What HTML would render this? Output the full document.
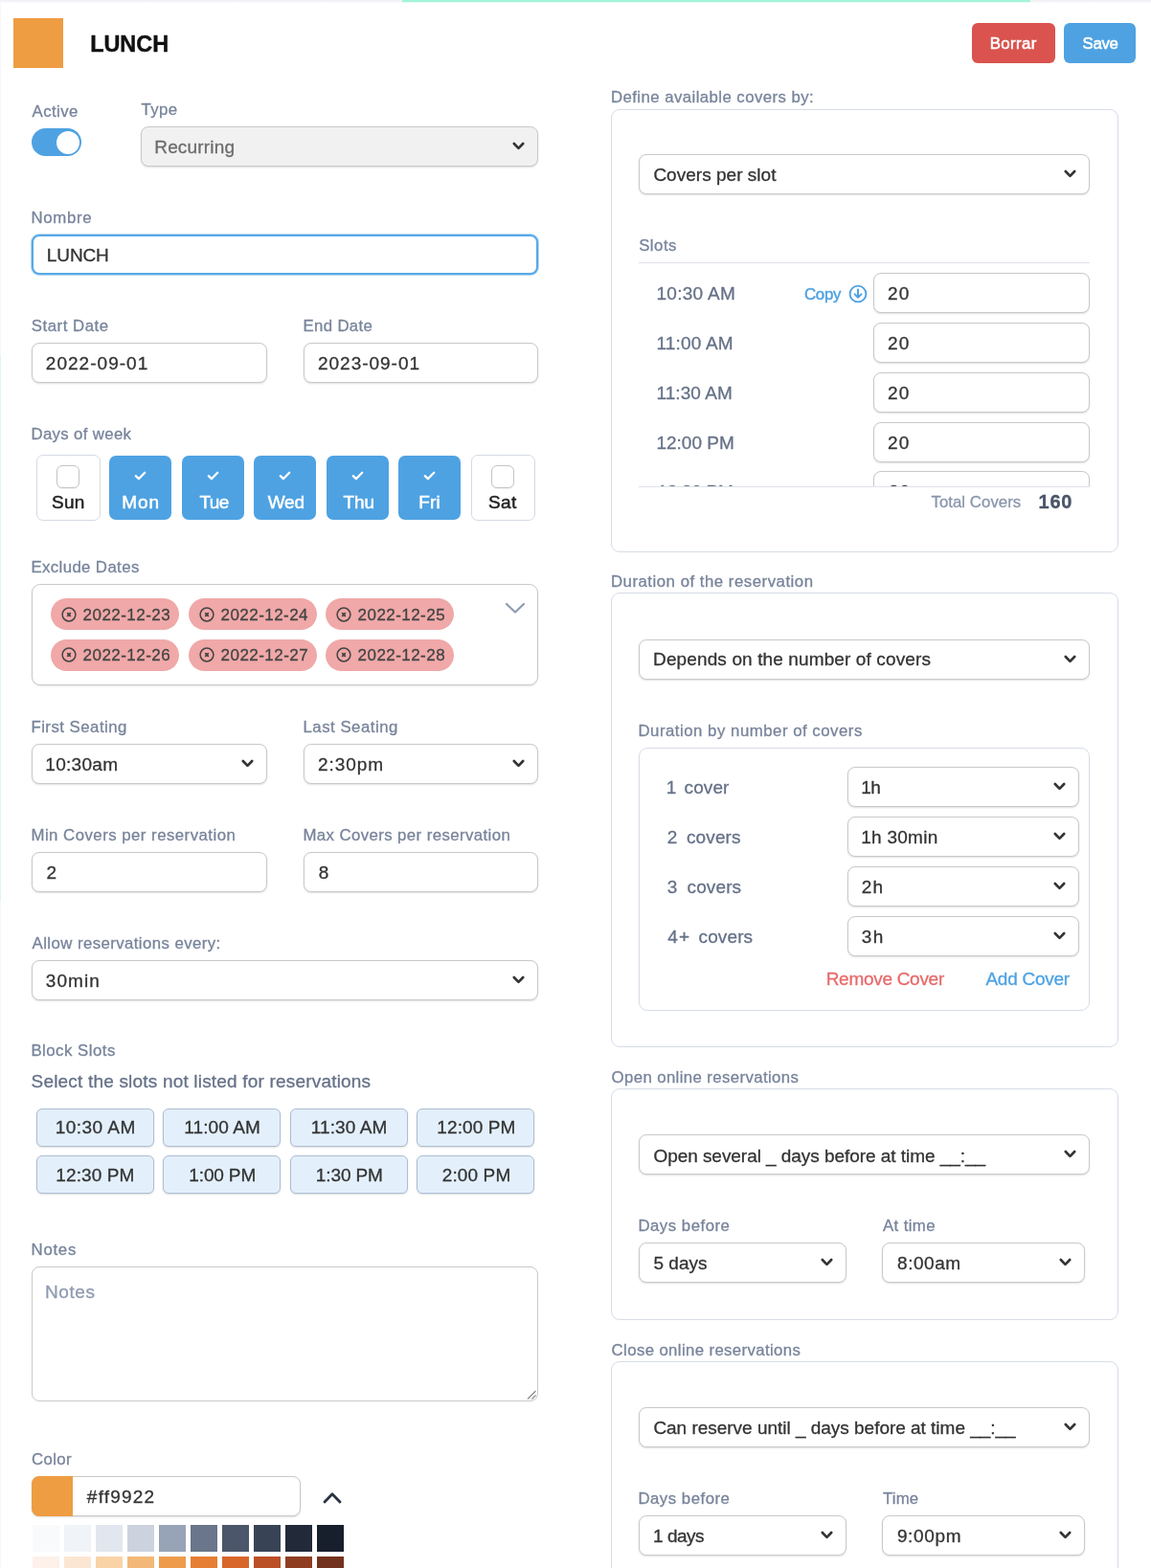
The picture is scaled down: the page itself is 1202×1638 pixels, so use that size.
<!DOCTYPE html>
<html lang="en">
<head>
<meta charset="utf-8">
<title>LUNCH</title>
<style>
*{box-sizing:border-box;margin:0;padding:0}
html,body{width:1202px;height:1638px;overflow:hidden;background:#fff}
body{position:relative;font-family:"Liberation Sans",sans-serif;color:#333;-webkit-font-smoothing:antialiased;-webkit-text-stroke:.3px currentColor}
.a{position:absolute;white-space:nowrap}
.t{position:absolute;white-space:nowrap;line-height:20px}
.l{color:#78849b;font-size:16.8px}
.v{color:#333;font-size:19px}
.inp{position:absolute;height:42px;border:1px solid #c9c9c9;border-radius:8px;background:#fff;box-shadow:0 1px 2px rgba(0,0,0,.13)}
.inp svg{position:absolute;right:13px;top:15px;width:13px;height:9px}
.card{position:absolute;border:1px solid #d7dce6;border-radius:9px;background:#fff}
.btn{position:absolute;border-radius:6px;height:42px;top:24px}
.day{position:absolute;top:476px;width:65px;height:67px;border-radius:7px;background:#4ea2e2}
.day.off{background:#fff;border:1px solid #d3d9e6;width:67px;top:475px;height:69px}
.day i{position:absolute;left:20px;top:10px;width:24px;height:24px;border:1px solid #c4c4c4;border-radius:6px;background:#fff;box-shadow:0 1px 1px rgba(0,0,0,.06)}
.day svg{position:absolute;left:26px;top:15.5px;width:13px;height:10px}
.chip{position:absolute;height:33px;width:134px;border-radius:17px;background:#f0a8a8}
.chip svg{position:absolute;left:11px;top:8.5px;width:16px;height:16px}
.slot{position:absolute;width:123px;height:40px;border-radius:6px;background:#e3f0fc;border:1px solid #adbdd2;box-shadow:0 1px 2px rgba(0,0,0,.12)}
.sw{position:absolute;width:28px;height:28px;top:1593px}
</style>
</head>
<body>
<div class="a" style="left:0;top:0;width:1202px;height:3px;background:linear-gradient(#f1f2f5 0,#f3f4f7 66%,#fbfbfc 67%)"></div>
<div class="a" style="left:420px;top:0;width:656px;height:3px;background:linear-gradient(#a0f4d8 0,#a4f4da 66%,#e4fcf4 67%)"></div>
<div class="a" style="left:0;top:3px;width:1px;height:1635px;background:#f7f7f8"></div>
<div class="a" style="left:0;top:371px;width:1px;height:570px;background:#dff7f0"></div>
<div class="a" style="left:14px;top:19px;width:52px;height:52px;background:#ee9d42"></div>
<div class="t v" style="left:94.20px;top:36px;letter-spacing:-0.08px;font-size:23.5px;font-weight:700;color:#111;-webkit-text-stroke:.4px #111;">LUNCH</div>
<div class="btn" style="left:1015px;width:87px;background:#da534e"></div>
<div class="btn" style="left:1111px;width:75.4px;background:#4ea2e2"></div>
<div class="t v" style="left:1033.63px;top:36px;letter-spacing:0.43px;font-size:16.8px;color:#fff;-webkit-text-stroke:.55px #fff;">Borrar</div>
<div class="t v" style="left:1130.52px;top:36px;letter-spacing:-0.33px;font-size:16.8px;color:#fff;-webkit-text-stroke:.55px #fff;">Save</div>
<div class="t l" style="left:33.61px;top:107px;letter-spacing:0.39px;">Active</div>
<div class="a" style="left:33px;top:134px;width:52px;height:29px;border-radius:14.5px;background:#4ea2e2"><div class="a" style="right:2px;top:2.5px;width:24px;height:24px;border-radius:50%;background:#fff"></div></div>
<div class="t l" style="left:147.56px;top:105px;letter-spacing:0.39px;">Type</div>
<div class="inp" style="left:147px;top:132px;width:415px;background:#f1f1f1;"><svg viewBox="0 0 13 9"><path d="M1.8 2 L6.5 6.9 L11.2 2" fill="none" stroke="#333" stroke-width="2.6" stroke-linecap="round" stroke-linejoin="round"/></svg></div>
<div class="t v" style="left:161.24px;top:144px;letter-spacing:0.17px;color:#6b6b6b;">Recurring</div>
<div class="t l" style="left:32.54px;top:218px;letter-spacing:0.65px;">Nombre</div>
<div class="inp" style="left:33px;top:245px;width:529px;height:42px;border:2px solid #58a9e6;box-shadow:0 0 0 1px rgba(88,169,230,.45);"></div>
<div class="t v" style="left:48.84px;top:257px;letter-spacing:-0.12px;">LUNCH</div>
<div class="t l" style="left:32.83px;top:331px;letter-spacing:0.52px;">Start Date</div>
<div class="t l" style="left:316.43px;top:331px;letter-spacing:0.36px;">End Date</div>
<div class="inp" style="left:33px;top:358px;width:246px;"></div>
<div class="inp" style="left:317px;top:358px;width:245px;"></div>
<div class="t v" style="left:47.85px;top:370px;letter-spacing:1.02px;">2022-09-01</div>
<div class="t v" style="left:332.00px;top:370px;letter-spacing:0.98px;">2023-09-01</div>
<div class="t l" style="left:32.43px;top:444px;letter-spacing:0.35px;">Days of week</div>
<div class="day off" style="left:38px"><i></i></div>
<div class="t v" style="left:54.00px;top:515px;letter-spacing:0.28px;color:#222;-webkit-text-stroke:.5px #222;">Sun</div>
<div class="day" style="left:114px"><svg viewBox="0 0 13 10"><path d="M1.8 5.2 L4.9 8.2 L11.2 1.8" fill="none" stroke="#fff" stroke-width="2.3" stroke-linecap="round" stroke-linejoin="round"/></svg></div>
<div class="t v" style="left:127.28px;top:515px;letter-spacing:0.88px;color:#fff;-webkit-text-stroke:.5px #fff;">Mon</div>
<div class="day" style="left:189.6px"><svg viewBox="0 0 13 10"><path d="M1.8 5.2 L4.9 8.2 L11.2 1.8" fill="none" stroke="#fff" stroke-width="2.3" stroke-linecap="round" stroke-linejoin="round"/></svg></div>
<div class="t v" style="left:208.50px;top:515px;letter-spacing:-0.60px;color:#fff;-webkit-text-stroke:.5px #fff;">Tue</div>
<div class="day" style="left:265.2px"><svg viewBox="0 0 13 10"><path d="M1.8 5.2 L4.9 8.2 L11.2 1.8" fill="none" stroke="#fff" stroke-width="2.3" stroke-linecap="round" stroke-linejoin="round"/></svg></div>
<div class="t v" style="left:279.84px;top:515px;letter-spacing:-0.30px;color:#fff;-webkit-text-stroke:.5px #fff;">Wed</div>
<div class="day" style="left:340.8px"><svg viewBox="0 0 13 10"><path d="M1.8 5.2 L4.9 8.2 L11.2 1.8" fill="none" stroke="#fff" stroke-width="2.3" stroke-linecap="round" stroke-linejoin="round"/></svg></div>
<div class="t v" style="left:358.44px;top:515px;letter-spacing:-0.11px;color:#fff;-webkit-text-stroke:.5px #fff;">Thu</div>
<div class="day" style="left:416.4px"><svg viewBox="0 0 13 10"><path d="M1.8 5.2 L4.9 8.2 L11.2 1.8" fill="none" stroke="#fff" stroke-width="2.3" stroke-linecap="round" stroke-linejoin="round"/></svg></div>
<div class="t v" style="left:437.28px;top:515px;letter-spacing:0.18px;color:#fff;-webkit-text-stroke:.5px #fff;">Fri</div>
<div class="day off" style="left:491.5px"><i></i></div>
<div class="t v" style="left:510.00px;top:515px;letter-spacing:0.44px;color:#222;-webkit-text-stroke:.5px #222;">Sat</div>
<div class="t l" style="left:32.40px;top:583px;letter-spacing:0.39px;">Exclude Dates</div>
<div class="card" style="left:33px;top:610px;width:529px;height:106px;border-color:#c9c9c9;border-radius:9px;box-shadow:0 1px 2px rgba(0,0,0,.10)"></div>
<div class="chip" style="left:53px;top:625px"><svg viewBox="0 0 16 16"><circle cx="8" cy="8" r="6.9" fill="none" stroke="#444" stroke-width="1.5"/><path d="M6.7 6.7 L9.3 9.3 M9.3 6.7 L6.7 9.3" stroke="#444" stroke-width="1.8" stroke-linecap="round"/></svg></div>
<div class="t v" style="left:86.59px;top:633px;letter-spacing:0.46px;font-size:17px;color:#444;">2022-12-23</div>
<div class="chip" style="left:197px;top:625px"><svg viewBox="0 0 16 16"><circle cx="8" cy="8" r="6.9" fill="none" stroke="#444" stroke-width="1.5"/><path d="M6.7 6.7 L9.3 9.3 M9.3 6.7 L6.7 9.3" stroke="#444" stroke-width="1.8" stroke-linecap="round"/></svg></div>
<div class="t v" style="left:230.59px;top:633px;letter-spacing:0.44px;font-size:17px;color:#444;">2022-12-24</div>
<div class="chip" style="left:340px;top:625px"><svg viewBox="0 0 16 16"><circle cx="8" cy="8" r="6.9" fill="none" stroke="#444" stroke-width="1.5"/><path d="M6.7 6.7 L9.3 9.3 M9.3 6.7 L6.7 9.3" stroke="#444" stroke-width="1.8" stroke-linecap="round"/></svg></div>
<div class="t v" style="left:373.59px;top:633px;letter-spacing:0.45px;font-size:17px;color:#444;">2022-12-25</div>
<div class="chip" style="left:53px;top:667.5px"><svg viewBox="0 0 16 16"><circle cx="8" cy="8" r="6.9" fill="none" stroke="#444" stroke-width="1.5"/><path d="M6.7 6.7 L9.3 9.3 M9.3 6.7 L6.7 9.3" stroke="#444" stroke-width="1.8" stroke-linecap="round"/></svg></div>
<div class="t v" style="left:86.59px;top:675px;letter-spacing:0.46px;font-size:17px;color:#444;">2022-12-26</div>
<div class="chip" style="left:197px;top:667.5px"><svg viewBox="0 0 16 16"><circle cx="8" cy="8" r="6.9" fill="none" stroke="#444" stroke-width="1.5"/><path d="M6.7 6.7 L9.3 9.3 M9.3 6.7 L6.7 9.3" stroke="#444" stroke-width="1.8" stroke-linecap="round"/></svg></div>
<div class="t v" style="left:230.59px;top:675px;letter-spacing:0.46px;font-size:17px;color:#444;">2022-12-27</div>
<div class="chip" style="left:340px;top:667.5px"><svg viewBox="0 0 16 16"><circle cx="8" cy="8" r="6.9" fill="none" stroke="#444" stroke-width="1.5"/><path d="M6.7 6.7 L9.3 9.3 M9.3 6.7 L6.7 9.3" stroke="#444" stroke-width="1.8" stroke-linecap="round"/></svg></div>
<div class="t v" style="left:373.59px;top:675px;letter-spacing:0.45px;font-size:17px;color:#444;">2022-12-28</div>
<svg class="a" style="left:527px;top:629px;width:22px;height:13px" viewBox="0 0 22 13"><path d="M2 2 L11 10.5 L20 2" fill="none" stroke="#8e9bb1" stroke-width="2.2" stroke-linecap="round" stroke-linejoin="round"/></svg>
<div class="t l" style="left:32.43px;top:750px;letter-spacing:0.48px;">First Seating</div>
<div class="t l" style="left:316.43px;top:750px;letter-spacing:0.52px;">Last Seating</div>
<div class="inp" style="left:33px;top:777px;width:246px;"><svg viewBox="0 0 13 9"><path d="M1.8 2 L6.5 6.9 L11.2 2" fill="none" stroke="#333" stroke-width="2.6" stroke-linecap="round" stroke-linejoin="round"/></svg></div>
<div class="inp" style="left:317px;top:777px;width:245px;"><svg viewBox="0 0 13 9"><path d="M1.8 2 L6.5 6.9 L11.2 2" fill="none" stroke="#333" stroke-width="2.6" stroke-linecap="round" stroke-linejoin="round"/></svg></div>
<div class="t v" style="left:47.27px;top:789px;letter-spacing:0.30px;">10:30am</div>
<div class="t v" style="left:332.00px;top:789px;letter-spacing:0.93px;">2:30pm</div>
<div class="t l" style="left:32.43px;top:863px;letter-spacing:0.48px;">Min Covers per reservation</div>
<div class="t l" style="left:316.43px;top:863px;letter-spacing:0.41px;">Max Covers per reservation</div>
<div class="inp" style="left:33px;top:890px;width:246px;"></div>
<div class="inp" style="left:317px;top:890px;width:245px;"></div>
<div class="t v" style="left:48.50px;top:902px;letter-spacing:0.00px;">2</div>
<div class="t v" style="left:332.70px;top:902px;letter-spacing:0.00px;">8</div>
<div class="t l" style="left:33.61px;top:976px;letter-spacing:0.42px;">Allow reservations every:</div>
<div class="inp" style="left:33px;top:1003px;width:529px;"><svg viewBox="0 0 13 9"><path d="M1.8 2 L6.5 6.9 L11.2 2" fill="none" stroke="#333" stroke-width="2.6" stroke-linecap="round" stroke-linejoin="round"/></svg></div>
<div class="t v" style="left:47.86px;top:1015px;letter-spacing:1.03px;">30min</div>
<div class="t l" style="left:32.40px;top:1088px;letter-spacing:0.49px;">Block Slots</div>
<div class="t v" style="left:32.54px;top:1120px;letter-spacing:0.19px;color:#657187;">Select the slots not listed for reservations</div>
<div class="slot" style="left:38px;top:1158px"></div>
<div class="t v" style="left:57.86px;top:1168px;letter-spacing:0.44px;">10:30 AM</div>
<div class="slot" style="left:170px;top:1158px"></div>
<div class="t v" style="left:192.27px;top:1168px;letter-spacing:0.09px;">11:00 AM</div>
<div class="slot" style="left:303px;top:1158px"></div>
<div class="t v" style="left:324.86px;top:1168px;letter-spacing:0.07px;">11:30 AM</div>
<div class="slot" style="left:435px;top:1158px"></div>
<div class="t v" style="left:456.37px;top:1168px;letter-spacing:0.08px;">12:00 PM</div>
<div class="slot" style="left:38px;top:1207px"></div>
<div class="t v" style="left:58.37px;top:1218px;letter-spacing:0.08px;">12:30 PM</div>
<div class="slot" style="left:170px;top:1207px"></div>
<div class="t v" style="left:197.37px;top:1218px;letter-spacing:-0.15px;">1:00 PM</div>
<div class="slot" style="left:303px;top:1207px"></div>
<div class="t v" style="left:329.86px;top:1218px;letter-spacing:-0.13px;">1:30 PM</div>
<div class="slot" style="left:435px;top:1207px"></div>
<div class="t v" style="left:461.75px;top:1218px;letter-spacing:0.12px;">2:00 PM</div>
<div class="t l" style="left:32.56px;top:1296px;letter-spacing:0.73px;">Notes</div>
<div class="inp" style="left:33px;top:1323px;width:529px;height:141px;box-shadow:none"><svg style="right:1px;top:auto;bottom:1px;width:10px;height:10px" viewBox="0 0 10 10"><path d="M9.5 1 L1 9.5 M9.5 5.5 L5.5 9.5" stroke="#8a8a8a" stroke-width="1.2" fill="none"/></svg></div>
<div class="t v" style="left:47.00px;top:1340px;letter-spacing:0.60px;color:#8f9bb0;">Notes</div>
<div class="t l" style="left:33.06px;top:1515px;letter-spacing:0.38px;">Color</div>
<div class="inp" style="left:33px;top:1542px;width:281px;"></div>
<div class="a" style="left:33px;top:1542px;width:43px;height:41.5px;border-radius:8px 0 0 8px;background:#ee9d42"></div>
<div class="t v" style="left:90.86px;top:1554px;letter-spacing:1.20px;">#ff9922</div>
<svg class="a" style="left:337px;top:1558px;width:20px;height:13px" viewBox="0 0 20 13"><path d="M2 11 L10 2.8 L18 11" fill="none" stroke="#2a3342" stroke-width="2.8" stroke-linecap="round" stroke-linejoin="round"/></svg>
<div class="sw" style="left:34px;background:#f8fafc"></div>
<div class="sw" style="left:67px;background:#f0f3f7"></div>
<div class="sw" style="left:100px;background:#e2e7ef"></div>
<div class="sw" style="left:133px;background:#ccd3de"></div>
<div class="sw" style="left:166px;background:#97a3b7"></div>
<div class="sw" style="left:199px;background:#69768b"></div>
<div class="sw" style="left:232px;background:#4b566a"></div>
<div class="sw" style="left:265px;background:#384355"></div>
<div class="sw" style="left:298px;background:#222a3a"></div>
<div class="sw" style="left:331px;background:#171e2c"></div>
<div class="sw" style="left:34px;top:1626px;height:12px;background:#fdf1ea"></div>
<div class="sw" style="left:67px;top:1626px;height:12px;background:#fbe6d3"></div>
<div class="sw" style="left:100px;top:1626px;height:12px;background:#f9d3a6"></div>
<div class="sw" style="left:133px;top:1626px;height:12px;background:#f3b877"></div>
<div class="sw" style="left:166px;top:1626px;height:12px;background:#ee9b4c"></div>
<div class="sw" style="left:199px;top:1626px;height:12px;background:#e67e33"></div>
<div class="sw" style="left:232px;top:1626px;height:12px;background:#d8662a"></div>
<div class="sw" style="left:265px;top:1626px;height:12px;background:#bb4f26"></div>
<div class="sw" style="left:298px;top:1626px;height:12px;background:#8f3d20"></div>
<div class="sw" style="left:331px;top:1626px;height:12px;background:#73321d"></div>
<div class="t l" style="left:637.98px;top:92px;letter-spacing:0.43px;">Define available covers by:</div>
<div class="card" style="left:638px;top:113.5px;width:530px;height:463px"></div>
<div class="inp" style="left:667.3px;top:161px;width:471px;"><svg viewBox="0 0 13 9"><path d="M1.8 2 L6.5 6.9 L11.2 2" fill="none" stroke="#333" stroke-width="2.6" stroke-linecap="round" stroke-linejoin="round"/></svg></div>
<div class="t v" style="left:682.38px;top:173px;letter-spacing:0.02px;">Covers per slot</div>
<div class="t l" style="left:667.14px;top:247px;letter-spacing:0.50px;">Slots</div>
<div class="a" style="left:667px;top:274px;width:471px;height:1px;background:#dfe3ea"></div>
<div class="t v" style="left:685.46px;top:297px;letter-spacing:0.29px;color:#657187;">10:30 AM</div>
<div class="inp" style="left:912px;top:285px;width:226px;"></div>
<div class="t v" style="left:927.00px;top:297px;letter-spacing:1.20px;">20</div>
<div class="t v" style="left:685.48px;top:349px;letter-spacing:0.19px;color:#657187;">11:00 AM</div>
<div class="inp" style="left:912px;top:337px;width:226px;"></div>
<div class="t v" style="left:927.00px;top:349px;letter-spacing:1.20px;">20</div>
<div class="t v" style="left:685.46px;top:401px;letter-spacing:0.07px;color:#657187;">11:30 AM</div>
<div class="inp" style="left:912px;top:389px;width:226px;"></div>
<div class="t v" style="left:927.00px;top:401px;letter-spacing:1.20px;">20</div>
<div class="t v" style="left:685.46px;top:453px;letter-spacing:-0.00px;color:#657187;">12:00 PM</div>
<div class="inp" style="left:912px;top:441px;width:226px;"></div>
<div class="t v" style="left:927.00px;top:453px;letter-spacing:1.20px;">20</div>
<div class="t l" style="left:839.95px;top:298px;letter-spacing:-0.23px;color:#4ea2e2;-webkit-text-stroke:.45px #4ea2e2;">Copy</div>
<svg class="a" style="left:886px;top:297px;width:20px;height:20px" viewBox="0 0 20 20"><circle cx="10" cy="10" r="8.4" fill="none" stroke="#4ea2e2" stroke-width="1.9"/><path d="M10 5.6 V13.6 M6.6 10.4 L10 13.8 L13.4 10.4" fill="none" stroke="#4ea2e2" stroke-width="2" stroke-linecap="round" stroke-linejoin="round"/></svg>
<div class="a" style="left:667px;top:480px;width:472px;height:28.3px;overflow:hidden">
<div class="inp" style="left:245px;top:12px;width:226px"></div>
<div class="t v" style="left:19.60px;top:24px;letter-spacing:-0.30px;color:#657187;">12:30 PM</div>
<div class="t v" style="left:261.00px;top:24px;letter-spacing:0.91px;">20</div>
</div>
<div class="a" style="left:667px;top:508.3px;width:471px;height:1px;background:#dfe3ea"></div>
<div class="t l" style="left:972.44px;top:515px;letter-spacing:0.05px;color:#8a96ac;">Total Covers</div>
<div class="t v" style="left:1084.47px;top:514px;letter-spacing:0.82px;font-size:20px;font-weight:700;color:#4a5568;-webkit-text-stroke:.35px #4a5568;">160</div>
<div class="t l" style="left:637.96px;top:598px;letter-spacing:0.51px;">Duration of the reservation</div>
<div class="card" style="left:638px;top:619px;width:530px;height:474.5px"></div>
<div class="inp" style="left:667.3px;top:668px;width:471px;"><svg viewBox="0 0 13 9"><path d="M1.8 2 L6.5 6.9 L11.2 2" fill="none" stroke="#333" stroke-width="2.6" stroke-linecap="round" stroke-linejoin="round"/></svg></div>
<div class="t v" style="left:682.10px;top:679px;letter-spacing:0.12px;">Depends on the number of covers</div>
<div class="t l" style="left:666.44px;top:754px;letter-spacing:0.51px;">Duration by number of covers</div>
<div class="card" style="left:667.3px;top:780.5px;width:471px;height:275px"></div>
<div class="t v" style="left:695.86px;top:813px;letter-spacing:0.00px;color:#657187;">1</div>
<div class="t v" style="left:714.56px;top:813px;letter-spacing:0.11px;color:#657187;">cover</div>
<div class="inp" style="left:884.5px;top:801px;width:242px;"><svg viewBox="0 0 13 9"><path d="M1.8 2 L6.5 6.9 L11.2 2" fill="none" stroke="#333" stroke-width="2.6" stroke-linecap="round" stroke-linejoin="round"/></svg></div>
<div class="t v" style="left:899.27px;top:813px;letter-spacing:-0.60px;">1h</div>
<div class="t v" style="left:696.65px;top:865px;letter-spacing:0.00px;color:#657187;">2</div>
<div class="t v" style="left:716.96px;top:865px;letter-spacing:0.12px;color:#657187;">covers</div>
<div class="inp" style="left:884.5px;top:853px;width:242px;"><svg viewBox="0 0 13 9"><path d="M1.8 2 L6.5 6.9 L11.2 2" fill="none" stroke="#333" stroke-width="2.6" stroke-linecap="round" stroke-linejoin="round"/></svg></div>
<div class="t v" style="left:899.27px;top:865px;letter-spacing:0.26px;">1h 30min</div>
<div class="t v" style="left:696.86px;top:917px;letter-spacing:0.00px;color:#657187;">3</div>
<div class="t v" style="left:717.56px;top:917px;letter-spacing:0.12px;color:#657187;">covers</div>
<div class="inp" style="left:884.5px;top:905px;width:242px;"><svg viewBox="0 0 13 9"><path d="M1.8 2 L6.5 6.9 L11.2 2" fill="none" stroke="#333" stroke-width="2.6" stroke-linecap="round" stroke-linejoin="round"/></svg></div>
<div class="t v" style="left:899.65px;top:917px;letter-spacing:1.20px;">2h</div>
<div class="t v" style="left:697.26px;top:969px;letter-spacing:1.20px;color:#657187;">4+</div>
<div class="t v" style="left:729.56px;top:969px;letter-spacing:0.12px;color:#657187;">covers</div>
<div class="inp" style="left:884.5px;top:957px;width:242px;"><svg viewBox="0 0 13 9"><path d="M1.8 2 L6.5 6.9 L11.2 2" fill="none" stroke="#333" stroke-width="2.6" stroke-linecap="round" stroke-linejoin="round"/></svg></div>
<div class="t v" style="left:899.86px;top:969px;letter-spacing:1.20px;">3h</div>
<div class="t v" style="left:862.70px;top:1013px;letter-spacing:-0.29px;color:#e76a6a;">Remove Cover</div>
<div class="t v" style="left:1029.42px;top:1013px;letter-spacing:-0.25px;color:#4ea2e2;">Add Cover</div>
<div class="t l" style="left:638.57px;top:1116px;letter-spacing:0.38px;">Open online reservations</div>
<div class="card" style="left:638px;top:1136.5px;width:530px;height:242px"></div>
<div class="inp" style="left:667.3px;top:1185px;width:471px;"><svg viewBox="0 0 13 9"><path d="M1.8 2 L6.5 6.9 L11.2 2" fill="none" stroke="#333" stroke-width="2.6" stroke-linecap="round" stroke-linejoin="round"/></svg></div>
<div class="t v" style="left:682.42px;top:1198px;letter-spacing:-0.05px;">Open several _ days before at time __:__</div>
<div class="t l" style="left:666.39px;top:1271px;letter-spacing:0.51px;">Days before</div>
<div class="t l" style="left:922.00px;top:1271px;letter-spacing:0.38px;">At time</div>
<div class="inp" style="left:667.3px;top:1298px;width:216.5px;"><svg viewBox="0 0 13 9"><path d="M1.8 2 L6.5 6.9 L11.2 2" fill="none" stroke="#333" stroke-width="2.6" stroke-linecap="round" stroke-linejoin="round"/></svg></div>
<div class="inp" style="left:921px;top:1298px;width:211.5px;"><svg viewBox="0 0 13 9"><path d="M1.8 2 L6.5 6.9 L11.2 2" fill="none" stroke="#333" stroke-width="2.6" stroke-linecap="round" stroke-linejoin="round"/></svg></div>
<div class="t v" style="left:682.41px;top:1310px;letter-spacing:0.03px;">5 days</div>
<div class="t v" style="left:937.08px;top:1310px;letter-spacing:0.54px;">8:00am</div>
<div class="t l" style="left:638.60px;top:1401px;letter-spacing:0.37px;">Close online reservations</div>
<div class="card" style="left:638px;top:1421.5px;width:530px;height:260px"></div>
<div class="inp" style="left:667.3px;top:1470px;width:471px;"><svg viewBox="0 0 13 9"><path d="M1.8 2 L6.5 6.9 L11.2 2" fill="none" stroke="#333" stroke-width="2.6" stroke-linecap="round" stroke-linejoin="round"/></svg></div>
<div class="t v" style="left:682.38px;top:1482px;letter-spacing:-0.02px;">Can reserve until _ days before at time __:__</div>
<div class="t l" style="left:666.39px;top:1556px;letter-spacing:0.51px;">Days before</div>
<div class="t l" style="left:921.98px;top:1556px;letter-spacing:0.17px;">Time</div>
<div class="inp" style="left:667.3px;top:1583px;width:216.5px;"><svg viewBox="0 0 13 9"><path d="M1.8 2 L6.5 6.9 L11.2 2" fill="none" stroke="#333" stroke-width="2.6" stroke-linecap="round" stroke-linejoin="round"/></svg></div>
<div class="inp" style="left:921px;top:1583px;width:211.5px;"><svg viewBox="0 0 13 9"><path d="M1.8 2 L6.5 6.9 L11.2 2" fill="none" stroke="#333" stroke-width="2.6" stroke-linecap="round" stroke-linejoin="round"/></svg></div>
<div class="t v" style="left:682.12px;top:1595px;letter-spacing:-0.51px;">1 days</div>
<div class="t v" style="left:936.88px;top:1595px;letter-spacing:0.67px;">9:00pm</div>
</body>
</html>
